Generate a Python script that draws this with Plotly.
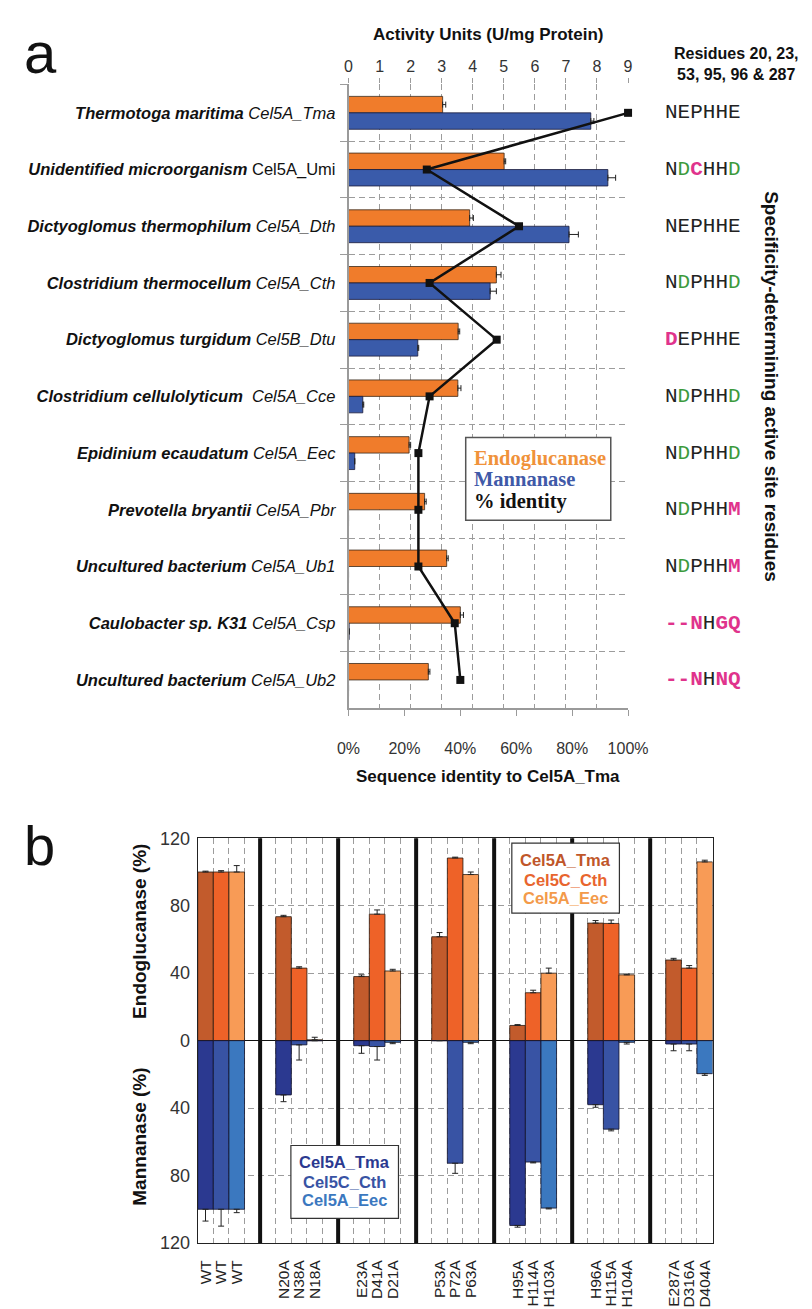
import plotly.graph_objects as go

# ---------------- Panel a data ----------------
species = ["Thermotoga maritima", "Unidentified microorganism", "Dictyoglomus thermophilum",
           "Clostridium thermocellum", "Dictyoglomus turgidum", "Clostridium cellulolyticum\u00a0",
           "Epidinium ecaudatum", "Prevotella bryantii", "Uncultured bacterium",
           "Caulobacter sp. K31", "Uncultured bacterium"]
enzymes = ["Cel5A_Tma", "Cel5A_Umi", "Cel5A_Dth", "Cel5A_Cth", "Cel5B_Dtu", "Cel5A_Cce",
           "Cel5A_Eec", "Cel5A_Pbr", "Cel5A_Ub1", "Cel5A_Csp", "Cel5A_Ub2"]
endo_units = [3.03, 5.01, 3.90, 4.76, 3.53, 3.52, 1.95, 2.45, 3.16, 3.60, 2.57]
endo_units_err = [0.10, 0.05, 0.12, 0.15, 0.05, 0.10, 0.05, 0.05, 0.05, 0.10, 0.05]
manna_units = [7.80, 8.35, 7.10, 4.56, 2.23, 0.46, 0.20, 0.0, 0.0, 0.02, 0.0]
manna_units_err = [0.10, 0.25, 0.30, 0.20, 0.03, 0.03, 0.0, 0.0, 0.0, 0.0, 0.0]
identity_pct = [100, 28, 61, 29, 53, 29, 25, 25, 25, 38, 40]
residues = ["NEPHHE", "NDCHHD", "NEPHHE", "NDPHHD", "DEPHHE", "NDPHHD",
            "NDPHHD", "NDPHHM", "NDPHHM", "--NHGQ", "--NHNQ"]
act_ticks = list(range(0, 10))
id_ticks = [0, 20, 40, 60, 80, 100]

# ---------------- Panel b data ----------------
mut_tma = ["WT", "N20A", "E23A", "P53A", "H95A", "H96A", "E287A"]
mut_cth = ["WT", "N38A", "D41A", "P72A", "H114A", "H115A", "D316A"]
mut_eec = ["WT", "N18A", "D21A", "P63A", "H103A", "H104A", "D404A"]
endo_tma = [100, 73.5, 38.0, 61.6, 9.0, 69.7, 47.8]
endo_tma_err = [0.5, 0.8, 1.0, 2.5, 0.5, 1.5, 1.0]
endo_cth = [100, 43.0, 75.0, 108.3, 28.4, 69.5, 43.0]
endo_cth_err = [0.8, 0.8, 2.5, 0.5, 1.5, 2.0, 1.5]
endo_eec = [100, 0.5, 41.3, 98.5, 40.0, 39.0, 106.0]
endo_eec_err = [3.8, 1.5, 1.0, 1.5, 3.0, 0.5, 1.0]
manna_tma = [100, 32.2, 3.0, 0.0, 109.6, 38.0, 2.0]
manna_tma_err = [7.0, 4.0, 4.5, 0.0, 1.0, 1.5, 4.0]
manna_cth = [100, 2.5, 3.5, 72.7, 72.0, 52.5, 2.0]
manna_cth_err = [10.0, 9.0, 8.0, 6.0, 0.5, 1.0, 4.0]
manna_eec = [100, 0.0, 1.0, 1.0, 99.3, 1.0, 19.6]
manna_eec_err = [2.0, 0.0, 0.8, 0.8, 0.5, 1.0, 1.0]
pct_ticks = [-120, -80, -40, 0, 40, 80, 120]

W, H = 812, 1309
def px(x):
    return x / W
def py(y):
    return 1 - y / H

SANS = "Liberation Sans, Arial, sans-serif"
MONO = "Liberation Mono, Courier New, monospace"
SERIF = "Liberation Serif, DejaVu Serif, serif"

ORANGE = "#F07C2B"
BLUE = "#3A5BAA"
GREEN = "#3C9A3C"
MAGENTA = "#E0338C"
GRID = "#9c9c9c"
DASH = "6px,4px"

labels = []
for s, e in zip(species, enzymes):
    enz = e if e == "Cel5A_Umi" else f"<i>{e}</i>"
    labels.append(f"<b><i>{s}</i></b> {enz}")
n_rows = len(labels)

fig = go.Figure()

bw = 0.29
fig.add_trace(go.Bar(
    y=labels, x=endo_units, orientation="h", name="Endoglucanase",
    marker=dict(color=ORANGE, line=dict(color="#3a2a1a", width=0.8)),
    width=bw, offset=-bw, xaxis="x", yaxis="y",
    error_x=dict(type="data", symmetric=False, array=endo_units_err,
                 arrayminus=[0] * len(endo_units_err), color="#222", thickness=1, width=3),
    showlegend=False))
fig.add_trace(go.Bar(
    y=labels, x=manna_units, orientation="h", name="Mannanase",
    marker=dict(color=BLUE, line=dict(color="#1a1a3a", width=0.8)),
    width=bw, offset=0, xaxis="x", yaxis="y",
    error_x=dict(type="data", symmetric=False, array=manna_units_err,
                 arrayminus=[0] * len(manna_units_err), color="#222", thickness=1, width=3),
    showlegend=False))
fig.add_trace(go.Scatter(
    y=labels, x=identity_pct, xaxis="x2", yaxis="y", mode="lines+markers",
    line=dict(color="#111", width=2.5), marker=dict(symbol="square", size=8, color="#111"),
    cliponaxis=False, showlegend=False))

# ---------------- Panel b traces ----------------
n_groups = len(mut_tma)
slot = 5
series_b = [
    (endo_tma, endo_tma_err, manna_tma, manna_tma_err, "#C25B2C", "#2B3990"),
    (endo_cth, endo_cth_err, manna_cth, manna_cth_err, "#EE6228", "#3853A4"),
    (endo_eec, endo_eec_err, manna_eec, manna_eec_err, "#F89B56", "#3B78BF"),
]
for s, (ev, ee, mv, me, ec, mc) in enumerate(series_b):
    xs = [g * slot + s for g in range(n_groups)]
    fig.add_trace(go.Bar(
        x=xs, y=ev, width=1, xaxis="x3", yaxis="y3",
        marker=dict(color=ec, line=dict(color="#2a1a10", width=0.8)),
        error_y=dict(type="data", symmetric=False, array=ee, arrayminus=[0] * len(ee),
                     color="#222", thickness=1, width=3),
        showlegend=False))
    fig.add_trace(go.Bar(
        x=xs, y=[-v for v in mv], width=1, xaxis="x3", yaxis="y3",
        marker=dict(color=mc, line=dict(color="#10102a", width=0.8)),
        error_y=dict(type="data", symmetric=False, arrayminus=me, array=[0] * len(me),
                     color="#222", thickness=1, width=3),
        showlegend=False))

tick_pos, tick_txt = [], []
for g in range(n_groups):
    for s, names in enumerate((mut_tma, mut_cth, mut_eec)):
        tick_pos.append(g * slot + s)
        tick_txt.append(names[g])
n_slots = n_groups * slot - 2

fig.update_layout(
    width=W, height=H, margin=dict(l=0, r=0, t=0, b=0),
    paper_bgcolor="white", plot_bgcolor="white", barmode="overlay",
    font=dict(family=SANS, color="#222"),
    xaxis=dict(domain=[px(342), px(633)], anchor="y", side="top", range=[0, 9],
               tickvals=act_ticks, showgrid=True, griddash=DASH, gridcolor=GRID,
               gridwidth=1, zeroline=False, showline=False, ticks="outside", ticklen=5,
               tickcolor=GRID, tickfont=dict(family=SANS, size=16, color="#333")),
    xaxis2=dict(overlaying="x", anchor="y", side="bottom", range=[0, 100],
                tickvals=id_ticks, ticktext=[f"{v}%" for v in id_ticks],
                showgrid=False, zeroline=False,
                showline=True, linecolor="#9a9a9a", linewidth=1.5, ticks="outside",
                ticklen=6, tickcolor="#9a9a9a", ticklabelstandoff=19,
                tickfont=dict(family=SANS, size=16, color="#333")),
    yaxis=dict(domain=[py(701), py(67.5)], anchor="x", type="category",
               range=[n_rows - 0.5, -0.5], tickson="boundaries", showgrid=True,
               griddash=DASH, gridcolor=GRID, gridwidth=1, showline=True,
               linecolor="#9a9a9a", linewidth=1.5, ticks="outside", ticklen=7,
               tickcolor=GRID, ticklabelstandoff=8,
               tickfont=dict(family=SANS, size=16.5, color="#111")),
    xaxis3=dict(domain=[px(185), px(721)], anchor="y3", range=[-0.5, n_slots - 0.5],
                tickvals=tick_pos, ticktext=tick_txt, tickangle=-90, showgrid=False,
                zeroline=False, showline=True, mirror=True, linecolor="#222",
                linewidth=1, ticks="", ticklabelstandoff=10,
                tickfont=dict(family=SANS, size=15.5, color="#222"),
                minor=dict(tickvals=[k + 0.5 for k in range(n_slots - 1)], showgrid=True,
                           griddash=DASH, gridcolor=GRID, gridwidth=1, ticks="")),
    yaxis3=dict(domain=[py(1244), py(833)], anchor="x3", range=[-120, 120],
                tickvals=pct_ticks, ticktext=[str(abs(v)) for v in pct_ticks],
                showgrid=True, griddash=DASH, gridcolor=GRID, gridwidth=1,
                zeroline=True, zerolinecolor="#111", zerolinewidth=1,
                showline=True, mirror=True, linecolor="#222", linewidth=1,
                ticks="", ticklabelstandoff=3,
                tickfont=dict(family=SANS, size=18, color="#333")),
)

shapes = []
for g in range(1, n_groups):
    xs = g * slot - 1.5
    shapes.append(dict(type="line", xref="x3", yref="y3 domain", x0=xs, x1=xs, y0=0, y1=1,
                       line=dict(color="#111", width=4), layer="above"))
shapes.append(dict(type="rect", xref="paper", yref="paper", x0=px(464), x1=px(615),
                   y0=py(510), y1=py(426), line=dict(color="#555", width=1.5),
                   fillcolor="white", layer="above"))
shapes.append(dict(type="rect", xref="paper", yref="paper", x0=px(512), x1=px(624),
                   y0=py(909), y1=py(838), line=dict(color="#333", width=1.2),
                   fillcolor="white", layer="above"))
shapes.append(dict(type="rect", xref="paper", yref="paper", x0=px(282), x1=px(394),
                   y0=py(1219), y1=py(1145), line=dict(color="#333", width=1.2),
                   fillcolor="white", layer="above"))
fig.update_layout(shapes=shapes)

ann = []
def A(text, x, y, size, family=SANS, color="#111", xanchor="center", yanchor="middle",
      angle=0, xref="paper", yref="paper"):
    ann.append(dict(text=text, x=x, y=y, xref=xref, yref=yref, showarrow=False,
                    xanchor=xanchor, yanchor=yanchor, textangle=angle,
                    font=dict(size=size, family=family, color=color)))

A("a", px(2), py(0), 58, xanchor="left", yanchor="top")
A("b", px(2), py(840), 56, xanchor="left")
A("<b>Activity Units (U/mg Protein)</b>", px(487), py(17), 17)
A("<b>Residues 20, 23,<br>53, 95, 96 &amp; 287</b>", px(746), py(47), 16)
A("<b>Specificity-determining active site residues</b>", px(783), py(374), 19, angle=90)
A("<b>Sequence identity to Cel5A_Tma</b>", px(487), py(770), 17)

ref = residues[0]
for lab, res in zip(labels, residues):
    parts = []
    for c, r in zip(res, ref):
        if c == r:
            parts.append(c)
        elif c == "D" and r == "E":
            parts.append(f"<span style='color:{GREEN}'>{c}</span>")
        else:
            parts.append(f"<span style='color:{MAGENTA}'><b>{c}</b></span>")
    A("".join(parts), px(711), lab, 21, family=MONO, color="#222", yref="y")

A("<b>Endoglucanase</b>", px(471), py(447), 20.5, family=SERIF, color="#F0923A", xanchor="left")
A("<b>Mannanase</b>", px(471), py(468.5), 20.5, family=SERIF, color="#3F5AA8", xanchor="left")
A("<b>% identity</b>", px(471), py(491.5), 20.5, family=SERIF, color="#111", xanchor="left")

A("<b>Endoglucanase (%)</b>", px(125), py(928), 19, angle=-90)
A("<b>Mannanase (%)</b>", px(125), py(1136), 19, angle=-90)

for txt, col, yy in zip(["Cel5A_Tma", "Cel5C_Cth", "Cel5A_Eec"],
                        ["#C0562A", "#E8652E", "#F39A4A"], [855, 875, 894]):
    A(f"<b>{txt}</b>", px(568), py(yy), 16.5, color=col)
for txt, col, yy in zip(["Cel5A_Tma", "Cel5C_Cth", "Cel5A_Eec"],
                        ["#2B3990", "#3853A4", "#3B78BF"], [1162, 1182, 1200]):
    A(f"<b>{txt}</b>", px(338), py(yy), 16.5, color=col)

fig.update_layout(annotations=ann)
fig.write_html("out.html")
